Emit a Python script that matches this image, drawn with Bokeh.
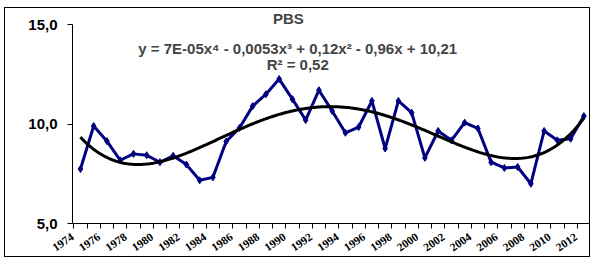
import numpy as np
from bokeh.plotting import figure
from bokeh.models import FixedTicker, Label, Range1d
from bokeh.embed import file_html
from bokeh.resources import INLINE

years = list(range(1974, 2013))
pbs = [7.74, 9.90, 9.14, 8.18, 8.50, 8.43, 8.08, 8.40, 7.96, 7.17,
       7.32, 9.12, 9.80, 10.90, 11.50, 12.26, 11.25, 10.20, 11.70, 10.66,
       9.56, 9.85, 11.16, 8.77, 11.16, 10.57, 8.30, 9.65, 9.18, 10.07,
       9.78, 8.08, 7.79, 7.84, 7.00, 9.65, 9.18, 9.26, 10.40]
y_ticks = [5, 10, 15]
title_text = "PBS"
equation_text = "y = 7E-05x\u2074 - 0,0053x\u00b3 + 0,12x\u00b2 - 0,96x + 10,21"
r2_text = "R\u00b2 = 0,52"

idx = np.arange(len(years))
coef = np.polyfit(idx + 1, pbs, 4)
xs = np.linspace(0, len(years) - 1, 300)
trend = np.polyval(coef, xs + 1)

shift = 0.6
p = figure(width=586, height=250, output_backend="svg", toolbar_location=None,
           x_range=Range1d(-shift, len(years) - 0.5), y_range=Range1d(5, 15.707),
           min_border_left=67, min_border_right=1, min_border_top=2, min_border_bottom=34,
           background_fill_color="white", border_fill_color="white")
p.outline_line_color = None
p.xgrid.visible = False
p.ygrid.visible = False
p.styles = {"border": "1px solid black", "box-sizing": "border-box",
            "margin-left": "4px", "margin-top": "7px"}

p.line(idx, pbs, line_color="#000080", line_width=3)
p.scatter(idx, pbs, marker="diamond", size=7, color="#000080")
p.line(xs, trend, line_color="black", line_width=3)

# axes
yax = p.yaxis[0]
yax.ticker = FixedTicker(ticks=y_ticks)
yax.bounds = (5, 15)
yax.major_label_overrides = {t: f"{t:.1f}".replace(".", ",") for t in y_ticks}
yax.major_label_text_font = "Liberation Sans"
yax.major_label_text_font_style = "bold"
yax.major_label_text_font_size = "15px"
yax.major_label_text_color = "black"
yax.major_label_standoff = 10
yax.major_tick_out = 5
yax.major_tick_in = 0
yax.minor_tick_out = 0
yax.minor_tick_in = 0
yax.axis_line_color = "black"
yax.major_tick_line_color = "black"

xax = p.xaxis[0]
label_pos = [i - shift for i, yv in enumerate(years) if yv % 2 == 0]
xax.ticker = FixedTicker(ticks=label_pos, minor_ticks=[i - 0.5 for i in range(len(years) + 1)])
xax.major_label_overrides = {i - shift: str(yv) for i, yv in enumerate(years) if yv % 2 == 0}
xax.major_label_orientation = 0.6
xax.major_label_text_font = "Liberation Serif"
xax.major_label_text_font_style = "bold"
xax.major_label_text_font_size = "11.5px"
xax.major_label_text_color = "black"
xax.major_label_standoff = 7
xax.major_tick_out = 0
xax.major_tick_in = 0
xax.minor_tick_out = 5
xax.minor_tick_in = 0
xax.minor_tick_line_color = "black"
xax.axis_line_color = "black"

p.add_layout(Label(x=15.7, y=15.3, text=title_text, text_align="center", text_baseline="middle",
                   text_font="Liberation Sans", text_font_style="bold", text_font_size="15px"))
p.add_layout(Label(x=16.4, y=13.79, text=equation_text, text_align="center", text_baseline="middle",
                   text_font="Liberation Sans", text_font_style="bold", text_font_size="15px"))
p.add_layout(Label(x=16.4, y=12.98, text=r2_text, text_align="center", text_baseline="middle",
                   text_font="Liberation Sans", text_font_style="bold", text_font_size="15px"))

open("out.html", "w").write(file_html(p, INLINE))
